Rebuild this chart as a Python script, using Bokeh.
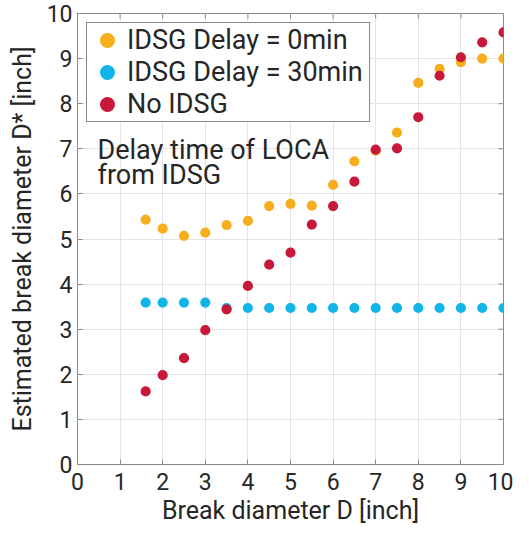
import math
from bokeh.plotting import figure
from bokeh.models import (ColumnDataSource, FixedTicker, Label, Legend, LegendItem, Range1d)
from bokeh.embed import file_html
from bokeh.resources import INLINE

# ---- data ----
break_diameter = [1.6, 2.0, 2.5, 3.0, 3.5, 4.0, 4.5, 5.0, 5.5, 6.0,
                  6.5, 7.0, 7.5, 8.0, 8.5, 9.0, 9.5, 10.0]
delay_0min = [5.43, 5.23, 5.07, 5.14, 5.31, 5.40, 5.73, 5.78, 5.74, 6.20,
              6.72, 6.96, 7.36, 8.46, 8.77, 8.92, 9.00, 9.00]
delay_30min = [3.59, 3.59, 3.59, 3.59, 3.47, 3.47, 3.47, 3.47, 3.47, 3.47,
               3.47, 3.47, 3.47, 3.47, 3.47, 3.47, 3.47, 3.47]
no_idsg = [1.62, 1.98, 2.36, 2.98, 3.44, 3.96, 4.43, 4.70, 5.32, 5.73,
           6.27, 6.98, 7.01, 7.70, 8.62, 9.03, 9.36, 9.58]
series_names = ["IDSG Delay = 0min", "IDSG Delay = 30min", "No IDSG"]
ticks = list(range(0, 11))
x_label = "Break diameter D [inch]"
y_label = "Estimated break diameter D* [inch]"
note_lines = ["Delay time of LOCA", "from IDSG"]

COLORS = ["#F6AE1E", "#12B5E8", "#C8193A"]
FONT = "Roboto"
TXT = "#262626"
AXC = "#8a8a8a"
LO, HI = 0, 10

p = figure(width=513, height=527, output_backend="svg", toolbar_location=None,
           x_range=Range1d(LO, HI), y_range=Range1d(LO, HI),
           min_border_left=77, min_border_right=10, min_border_top=13,
           min_border_bottom=61)
p.background_fill_color = "white"
p.border_fill_color = "white"
p.outline_line_color = AXC
p.outline_line_width = 1

for ax in (p.xaxis[0], p.yaxis[0]):
    ax.ticker = FixedTicker(ticks=ticks)
    ax.major_label_text_font = FONT
    ax.major_label_text_font_size = "23px"
    ax.major_label_text_color = TXT
    ax.axis_line_color = AXC
    ax.major_tick_line_color = AXC
    ax.major_tick_in = 5
    ax.major_tick_out = 0
    ax.minor_tick_line_color = None
    ax.axis_label_text_font = FONT
    ax.axis_label_text_font_size = "25px"
    ax.axis_label_text_font_style = "normal"
    ax.axis_label_text_color = TXT
p.xaxis.major_label_standoff = 8
p.yaxis.major_label_standoff = 5
p.xaxis.axis_label = x_label
p.yaxis.axis_label = y_label
p.xaxis.axis_label_standoff = 3
p.yaxis.axis_label_standoff = 7

p.grid.ticker = FixedTicker(ticks=ticks)
p.grid.grid_line_color = "#e4e4e4"
p.grid.grid_line_width = 1

# inward ticks on the top and right edges of the box
p.ray(x=ticks, y=[HI] * len(ticks), length=5, length_units="screen",
      angle=-math.pi / 2, line_color=AXC, line_width=1)
p.ray(x=[HI] * len(ticks), y=ticks, length=5, length_units="screen",
      angle=math.pi, line_color=AXC, line_width=1)

src = ColumnDataSource(dict(x=break_diameter, a=delay_0min, b=delay_30min, c=no_idsg))
rs = []
for col, c in zip(["a", "b", "c"], COLORS):
    rs.append(p.scatter("x", col, source=src, size=8, fill_color=c,
                        line_color=c, line_width=2.2))

legend = Legend(items=[LegendItem(label=n, renderers=[r]) for n, r in zip(series_names, rs)],
                location="top_left", margin=9, padding=1, spacing=0,
                glyph_width=38, glyph_height=32, label_standoff=1, label_width=241,
                label_text_font=FONT, label_text_font_size="27px",
                label_text_color=TXT, border_line_color="#111111",
                border_line_width=1.5, background_fill_alpha=1)
p.add_layout(legend)

# annotation inside the plot
for txt, yy in zip(note_lines, [6.97, 6.42]):
    p.add_layout(Label(x=0.47, y=yy, text=txt, text_font=FONT,
                       text_font_size="27px", text_color=TXT,
                       text_baseline="alphabetic"))

open("out.html", "w").write(file_html(p, INLINE))
